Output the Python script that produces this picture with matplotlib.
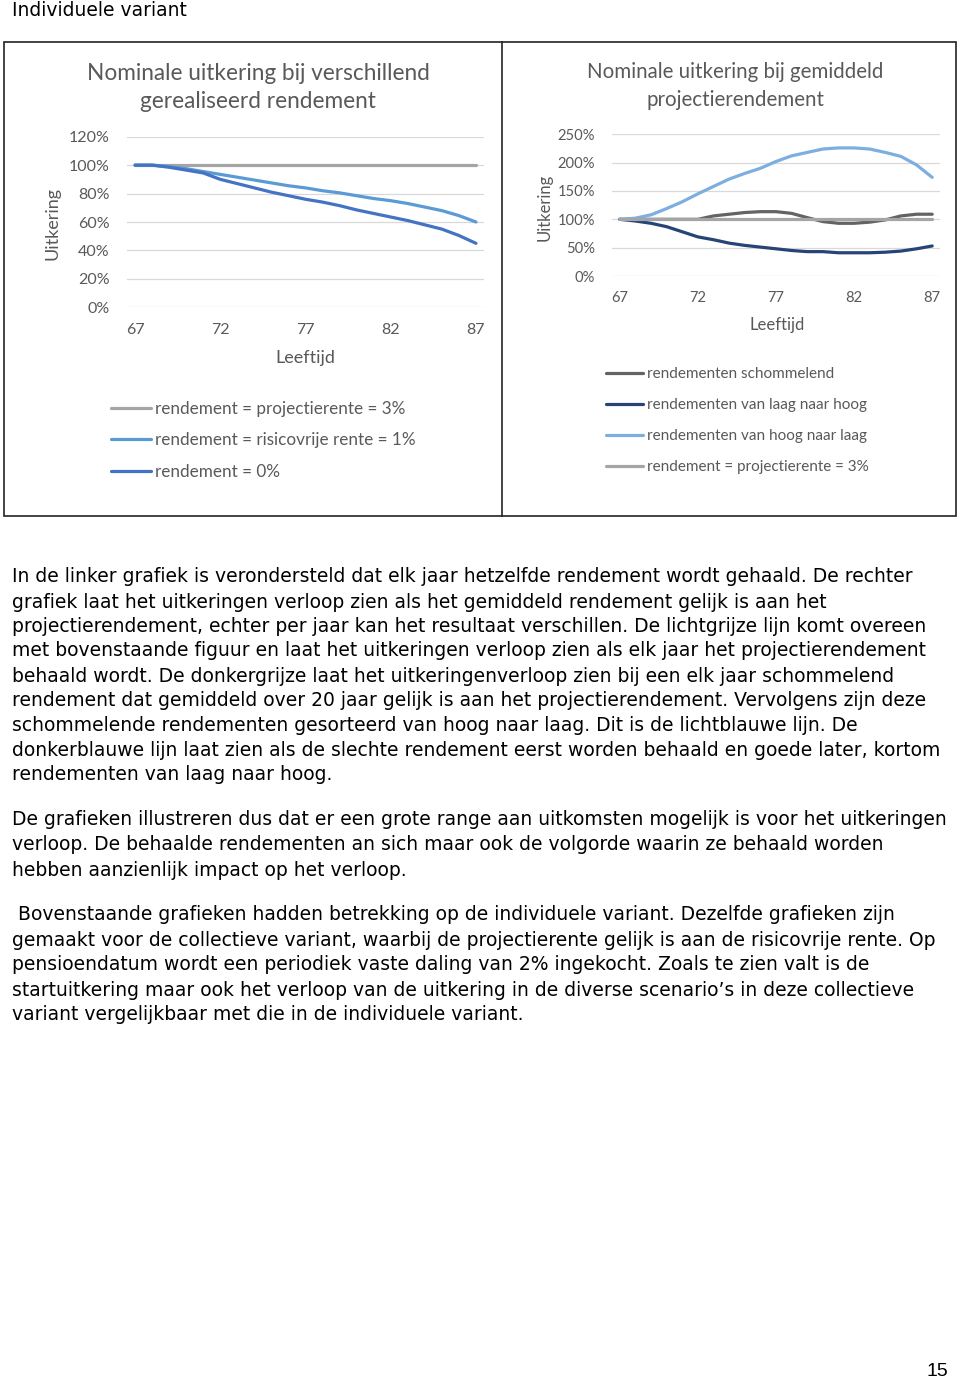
import matplotlib
matplotlib.use("Agg")
import matplotlib.pyplot as plt
from matplotlib.patches import Rectangle

W, H = 960, 1384

# leeftijden 67..87
ages = list(range(67, 88))

# linker grafiek (uitkering als fractie)
left_labels = ["rendement = projectierente = 3%",
               "rendement = risicovrije rente = 1%",
               "rendement = 0%"]
left_proj = [1.00] * 21
left_risk = [1.00, 1.00, 0.99, 0.975, 0.955, 0.935, 0.915, 0.895, 0.875, 0.855, 0.84,
             0.82, 0.805, 0.785, 0.765, 0.75, 0.73, 0.705, 0.68, 0.645, 0.60]
left_zero = [1.00, 1.00, 0.985, 0.965, 0.945, 0.90, 0.87, 0.84, 0.81, 0.785, 0.76,
             0.74, 0.715, 0.685, 0.66, 0.635, 0.61, 0.58, 0.55, 0.505, 0.45]
left_colors = ["#a5a5a5", "#5b9bd5", "#4472c4"]

# rechter grafiek
right_labels = ["rendementen schommelend",
                "rendementen van laag naar hoog",
                "rendementen van hoog naar laag",
                "rendement = projectierente = 3%"]
right_swing = [1.00, 1.00, 1.00, 1.00, 1.00, 1.00, 1.06, 1.09, 1.12, 1.135, 1.135,
               1.105, 1.03, 0.96, 0.93, 0.93, 0.95, 0.99, 1.06, 1.09, 1.09]
right_low_high = [1.00, 0.97, 0.93, 0.87, 0.78, 0.69, 0.64, 0.58, 0.54, 0.51, 0.48,
                  0.45, 0.43, 0.43, 0.41, 0.41, 0.41, 0.42, 0.44, 0.48, 0.53]
right_high_low = [1.00, 1.02, 1.08, 1.19, 1.31, 1.45, 1.58, 1.71, 1.81, 1.90, 2.02,
                  2.12, 2.18, 2.24, 2.26, 2.26, 2.24, 2.18, 2.11, 1.96, 1.74]
right_proj = [1.00] * 21
right_colors = ["#636363", "#264478", "#7cafe0", "#a5a5a5"]

left_yticks = [0, 0.2, 0.4, 0.6, 0.8, 1.0, 1.2]
right_yticks = [0, 0.5, 1.0, 1.5, 2.0, 2.5]
xticks = [67, 72, 77, 82, 87]

body = [
    (577, "In de linker grafiek is verondersteld dat elk jaar hetzelfde rendement wordt gehaald. De rechter"),
    (602, "grafiek laat het uitkeringen verloop zien als het gemiddeld rendement gelijk is aan het"),
    (627, "projectierendement, echter per jaar kan het resultaat verschillen. De lichtgrijze lijn komt overeen"),
    (651, "met bovenstaande figuur en laat het uitkeringen verloop zien als elk jaar het projectierendement"),
    (676, "behaald wordt. De donkergrijze laat het uitkeringenverloop zien bij een elk jaar schommelend"),
    (701, "rendement dat gemiddeld over 20 jaar gelijk is aan het projectierendement. Vervolgens zijn deze"),
    (726, "schommelende rendementen gesorteerd van hoog naar laag. Dit is de lichtblauwe lijn. De"),
    (751, "donkerblauwe lijn laat zien als de slechte rendement eerst worden behaald en goede later, kortom"),
    (775, "rendementen van laag naar hoog."),
    (820, "De grafieken illustreren dus dat er een grote range aan uitkomsten mogelijk is voor het uitkeringen"),
    (845, "verloop. De behaalde rendementen an sich maar ook de volgorde waarin ze behaald worden"),
    (870, "hebben aanzienlijk impact op het verloop."),
    (915, " Bovenstaande grafieken hadden betrekking op de individuele variant. Dezelfde grafieken zijn"),
    (940, "gemaakt voor de collectieve variant, waarbij de projectierente gelijk is aan de risicovrije rente. Op"),
    (965, "pensioendatum wordt een periodiek vaste daling van 2% ingekocht. Zoals te zien valt is de"),
    (990, "startuitkering maar ook het verloop van de uitkering in de diverse scenario\u2019s in deze collectieve"),
    (1015, "variant vergelijkbaar met die in de individuele variant."),
]

TXT = "#595959"
CHART_FONT = ["Lato", "DejaVu Sans"]
BODY_SIZE = 13.5


def fx(px):
    return px / W


def fy(py):
    return 1 - py / H


def style(ax, ylim, yticks, size):
    ax.set_xlim(66.5, 87.5)
    ax.set_ylim(*ylim)
    ax.set_xticks(xticks)
    ax.set_yticks(yticks)
    ax.set_yticklabels(["%d%%" % round(v * 100) for v in yticks])
    for s in ax.spines.values():
        s.set_visible(False)
    ax.grid(axis="y", color="#d9d9d9", lw=0.9)
    ax.set_axisbelow(True)
    ax.tick_params(length=0, labelsize=size, labelcolor=TXT)
    ax.tick_params(axis="x", pad=11)
    ax.tick_params(axis="y", pad=12)
    for lab in ax.get_xticklabels() + ax.get_yticklabels():
        lab.set_family(CHART_FONT)


fig = plt.figure(figsize=(W / 100, H / 100), dpi=100)

fig.text(fx(12), fy(11), "Individuele variant", fontsize=BODY_SIZE, family="DejaVu Sans",
         va="center", ha="left", color="black")

# kaders
fig.patches.append(Rectangle((fx(4), fy(516)), fx(952), 474 / H, transform=fig.transFigure,
                             fill=False, ec="#222222", lw=1.2))
fig.lines.append(plt.Line2D([fx(502), fx(502)], [fy(42), fy(516)], transform=fig.transFigure,
                            color="#222222", lw=1.2))

# linker grafiek
ax1 = fig.add_axes([fx(126.5), fy(307.3), fx(484.5 - 126.5), (307.3 - 136.7) / H])
lines1 = []
for ys, c, lab in zip([left_proj, left_risk, left_zero], left_colors, left_labels):
    ln, = ax1.plot(ages, ys, color=c, lw=2.3, label=lab, solid_capstyle="round")
    lines1.append(ln)
style(ax1, (0, 1.2), left_yticks, 11.5)
fig.text(fx(258), fy(73), "Nominale uitkering bij verschillend", fontsize=16.3, color=TXT,
         family=CHART_FONT, ha="center", va="center")
fig.text(fx(258), fy(101), "gerealiseerd rendement", fontsize=16.3, color=TXT,
         family=CHART_FONT, ha="center", va="center")
fig.text(fx(305), fy(358), "Leeftijd", fontsize=13, color=TXT, family=CHART_FONT,
         ha="center", va="center")
fig.text(fx(53), fy(223), "Uitkering", fontsize=13, color=TXT, family=CHART_FONT,
         ha="center", va="center", rotation=90)
fig.legend(handles=lines1, loc="upper left", bbox_to_anchor=(fx(104), fy(394)),
           frameon=False, prop={"family": CHART_FONT, "size": 12.3}, labelcolor=TXT,
           handlelength=2.35, handletextpad=0.25, labelspacing=0.9, borderaxespad=0)

# rechter grafiek
ax2 = fig.add_axes([fx(612), fy(276), fx(940 - 612), (276 - 134.3) / H])
lines2 = []
for ys, c, lab in zip([right_swing, right_low_high, right_high_low, right_proj],
                      right_colors, right_labels):
    ln, = ax2.plot(ages, ys, color=c, lw=2.3, label=lab, solid_capstyle="round")
    lines2.append(ln)
style(ax2, (0, 2.5), right_yticks, 10.6)
fig.text(fx(735), fy(72), "Nominale uitkering bij gemiddeld", fontsize=14.8, color=TXT,
         family=CHART_FONT, ha="center", va="center")
fig.text(fx(735), fy(100), "projectierendement", fontsize=14.8, color=TXT,
         family=CHART_FONT, ha="center", va="center")
fig.text(fx(777), fy(325), "Leeftijd", fontsize=12, color=TXT, family=CHART_FONT,
         ha="center", va="center")
fig.text(fx(545), fy(207), "Uitkering", fontsize=12, color=TXT, family=CHART_FONT,
         ha="center", va="center", rotation=90)
fig.legend(handles=lines2, loc="upper left", bbox_to_anchor=(fx(600), fy(361)),
           frameon=False, prop={"family": CHART_FONT, "size": 11}, labelcolor=TXT,
           handlelength=2.4, handletextpad=0.25, labelspacing=1.12, borderaxespad=0)

# lopende tekst
for y, line in body:
    fig.text(fx(12), fy(y), line, fontsize=BODY_SIZE, family="DejaVu Sans", va="center",
             ha="left", color="black")

fig.text(fx(937), fy(1372), "15", fontsize=14, family=["Liberation Sans"], va="center",
         ha="center", color="black")

fig.savefig("out.png", dpi=100)
